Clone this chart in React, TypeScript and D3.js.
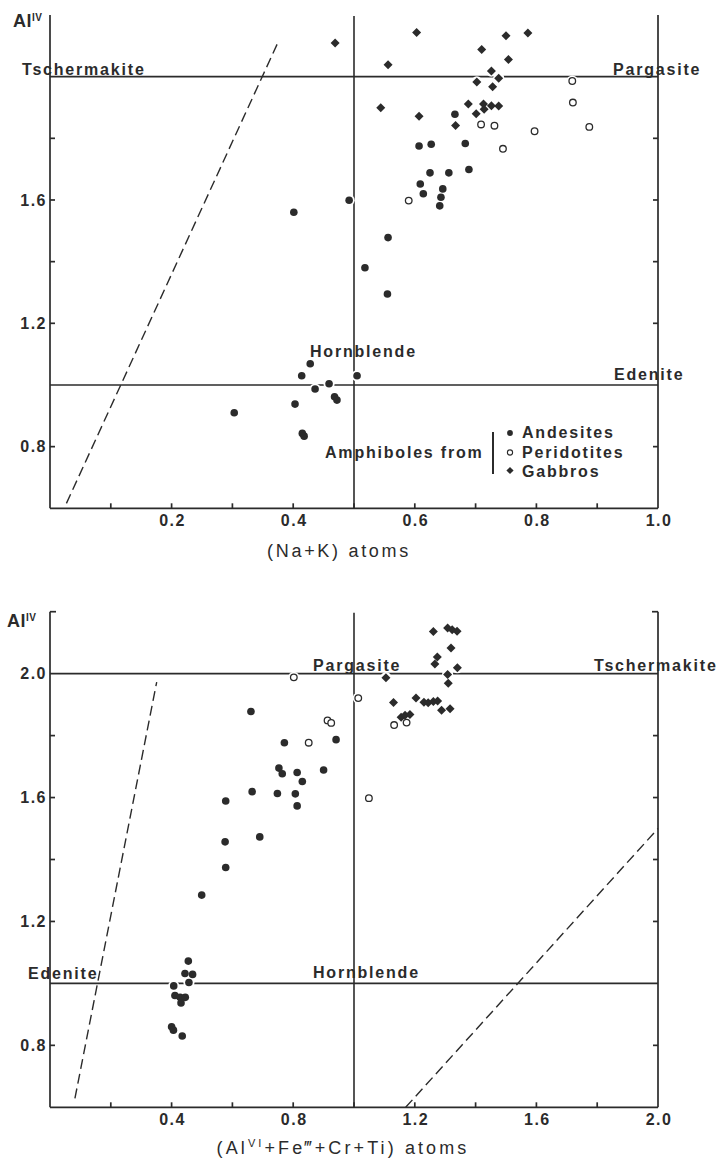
import * as d3 from 'd3';

type Pt = [number, number];

// upper diagram: Al(IV) against (Na+K)
const naKAndesites: Pt[] = [
  [0.401, 1.560], [0.492, 1.599], [0.556, 1.478], [0.607, 1.775], [0.627, 1.781],
  [0.683, 1.783], [0.689, 1.699], [0.625, 1.688], [0.656, 1.688], [0.609, 1.652],
  [0.614, 1.620], [0.646, 1.636], [0.643, 1.609], [0.641, 1.581], [0.666, 1.878],
  [0.518, 1.380], [0.555, 1.295], [0.428, 1.069], [0.414, 1.030], [0.505, 1.030],
  [0.436, 0.987], [0.459, 1.004], [0.468, 0.962], [0.472, 0.951], [0.403, 0.938],
  [0.415, 0.843], [0.418, 0.834], [0.303, 0.910],
];
const naKPeridotites: Pt[] = [
  [0.859, 1.986], [0.860, 1.916], [0.887, 1.837], [0.797, 1.823],
  [0.709, 1.845], [0.731, 1.841], [0.745, 1.766], [0.590, 1.598],
];
const naKGabbros: Pt[] = [
  [0.469, 2.109], [0.603, 2.143], [0.750, 2.133], [0.786, 2.142], [0.710, 2.088],
  [0.754, 2.056], [0.556, 2.039], [0.726, 2.018], [0.702, 1.983], [0.738, 1.995],
  [0.728, 1.967], [0.544, 1.899], [0.607, 1.872], [0.688, 1.911], [0.713, 1.911],
  [0.726, 1.906], [0.738, 1.905], [0.701, 1.880], [0.714, 1.894], [0.667, 1.842],
];
const naKDashed: Pt[] = [[0.027, 0.616], [0.374, 2.107]];
const naKTickLabels = [0.2, 0.4, 0.6, 0.8, 1.0];
const naKMinorTicks = [0.1, 0.3, 0.5, 0.7, 0.9];
const naKAlLabels = [0.8, 1.2, 1.6];

// lower diagram: Al(IV) against (Al(VI)+Fe3+Cr+Ti)
const sumAndesites: Pt[] = [
  [0.661, 1.878], [0.771, 1.777], [0.941, 1.787], [0.753, 1.695], [0.764, 1.677],
  [0.813, 1.681], [0.830, 1.652], [0.900, 1.689], [0.665, 1.619], [0.748, 1.613],
  [0.807, 1.612], [0.813, 1.573], [0.578, 1.589], [0.576, 1.457], [0.690, 1.473],
  [0.578, 1.374], [0.499, 1.285], [0.455, 1.072], [0.444, 1.032], [0.469, 1.029],
  [0.457, 1.003], [0.407, 0.992], [0.411, 0.961], [0.428, 0.955], [0.445, 0.955],
  [0.431, 0.937], [0.400, 0.860], [0.406, 0.849], [0.435, 0.830],
];
const sumPeridotites: Pt[] = [
  [0.802, 1.988], [1.014, 1.921], [0.913, 1.849], [0.925, 1.841],
  [0.851, 1.777], [1.049, 1.598], [1.132, 1.834], [1.173, 1.842],
];
const sumGabbros: Pt[] = [
  [1.261, 2.136], [1.308, 2.147], [1.323, 2.142], [1.339, 2.137], [1.319, 2.083],
  [1.274, 2.054], [1.266, 2.031], [1.340, 2.019], [1.308, 1.997], [1.310, 1.969],
  [1.105, 1.987], [1.130, 1.907], [1.204, 1.921], [1.230, 1.908], [1.244, 1.906],
  [1.261, 1.910], [1.275, 1.912], [1.288, 1.882], [1.316, 1.887], [1.155, 1.859],
  [1.168, 1.866], [1.184, 1.868],
];
const sumDashedLeft: Pt[] = [[0.082, 0.629], [0.351, 1.973]];
const sumDashedRight: Pt[] = [[1.17, 0.6], [2.0, 1.5]];
const sumTickLabels = [0.4, 0.8, 1.2, 1.6, 2.0];
const sumMinorTicks = [0.2, 0.6, 1.0, 1.4, 1.8];
const sumAlLabels = [0.8, 1.2, 1.6, 2.0];

const alTicks = [0.8, 1.2, 1.4, 1.6, 1.8];

const INK = '#2b2b2b';
const FONT = "'Liberation Sans', Arial, sans-serif";

const diamond = (r: number) => `M0,${-r}L${r},0L0,${r}L${-r},0Z`;

interface PanelProps {
  xDomain: [number, number];
  yRange: [number, number];
  andesites: Pt[];
  peridotites: Pt[];
  gabbros: Pt[];
  dashes: Pt[][];
  xLabels: number[];
  xMinor: number[];
  yLabels: number[];
  splitX: number;
  topTicks: boolean;
}

function Panel(p: PanelProps) {
  const x = d3.scaleLinear().domain(p.xDomain).range([50, 658]);
  const y = d3.scaleLinear().domain([0.6, 2.2]).range(p.yRange);
  const [x0, x1] = x.range();
  const yb = y(0.6), yt = y(2.2);
  const line = d3.line<Pt>().x(d => x(d[0])).y(d => y(d[1]));
  const all = [...p.andesites, ...p.peridotites, ...p.gabbros];

  return (
    <g>
      {/* frame */}
      <g stroke={INK} strokeWidth={1.7} fill="none">
        <line x1={x0} x2={x0} y1={yt} y2={yb} />
        <line x1={x1} x2={x1} y1={yt} y2={yb} />
        <line x1={x0} x2={x1} y1={yb} y2={yb} />
        {p.topTicks && <line x1={x0} x2={x0 + 6} y1={yt} y2={yt} />}
        {p.topTicks && <line x1={x1 - 6} x2={x1} y1={yt} y2={yt} />}
        {alTicks.map(v => (
          <g key={v}>
            <line x1={x0} x2={x0 + 5} y1={y(v)} y2={y(v)} />
            <line x1={x1 - 5} x2={x1} y1={y(v)} y2={y(v)} />
          </g>
        ))}
        {[...p.xLabels, ...p.xMinor].filter(v => v < p.xDomain[1]).map(v => (
          <line key={v} x1={x(v)} x2={x(v)} y1={yb} y2={yb - 5} />
        ))}
        {/* field boundaries */}
        <line x1={x0} x2={x1} y1={y(2.0)} y2={y(2.0)} strokeWidth={1.6} />
        <line x1={x0} x2={x1} y1={y(1.0)} y2={y(1.0)} strokeWidth={1.6} />
        <line x1={x(p.splitX)} x2={x(p.splitX)} y1={yb} y2={yt + 1} strokeWidth={1.6} />
        {p.dashes.map((d, i) => (
          <path key={i} d={line(d)!} strokeWidth={1.4} strokeDasharray="10 5" />
        ))}
      </g>

      {/* tick labels */}
      <g fill={INK} fontFamily={FONT} fontWeight={700} fontSize={16} letterSpacing={1.5}>
        {p.yLabels.map(v => (
          <text key={v} x={47} y={y(v)} dy="0.35em" textAnchor="end">{v.toFixed(1)}</text>
        ))}
        {p.xLabels.map(v => (
          <text key={v} x={x(v) + 1} y={yb + 18} textAnchor="middle">{v.toFixed(1)}</text>
        ))}
      </g>

      {/* white halos cut the lines round the symbols */}
      <g fill="#fff">
        {all.map((d, i) => (
          <circle key={i} cx={x(d[0])} cy={y(d[1])} r={5.6} />
        ))}
      </g>
      <g fill={INK}>
        {p.andesites.map((d, i) => (
          <circle key={i} cx={x(d[0])} cy={y(d[1])} r={3.8} />
        ))}
        {p.gabbros.map((d, i) => (
          <path key={i} d={diamond(4.5)} transform={`translate(${x(d[0])},${y(d[1])})`} />
        ))}
      </g>
      <g fill="#fff" stroke={INK} strokeWidth={1.3}>
        {p.peridotites.map((d, i) => (
          <circle key={i} cx={x(d[0])} cy={y(d[1])} r={3.3} />
        ))}
      </g>
    </g>
  );
}

export default function App() {
  const label = { fill: INK, fontFamily: FONT, fontWeight: 700, fontSize: 16, letterSpacing: 1.8 } as const;
  const title = { fill: INK, fontFamily: FONT, fontSize: 18, letterSpacing: 2.7 } as const;
  return (
    <svg width={717} height={1159} style={{ position: 'absolute', left: 0, top: 0, background: '#fff' }}>
      <Panel
        xDomain={[0, 1]} yRange={[508.3, 15]}
        andesites={naKAndesites} peridotites={naKPeridotites} gabbros={naKGabbros}
        dashes={[naKDashed]} xLabels={naKTickLabels} xMinor={naKMinorTicks}
        yLabels={naKAlLabels} splitX={0.5} topTicks={false}
      />
      <Panel
        xDomain={[0, 2]} yRange={[1107.3, 611.7]}
        andesites={sumAndesites} peridotites={sumPeridotites} gabbros={sumGabbros}
        dashes={[sumDashedLeft, sumDashedRight]} xLabels={sumTickLabels} xMinor={sumMinorTicks}
        yLabels={sumAlLabels} splitX={1.0} topTicks={true}
      />

      {/* upper diagram labels */}
      <text x={13} y={27} {...label} fontSize={18} letterSpacing={0.5}>
        Al<tspan fontSize={10} dy={-6}>IV</tspan>
      </text>
      <text x={22} y={74.5} {...label}>Tschermakite</text>
      <text x={613} y={75} {...label}>Pargasite</text>
      <text x={310} y={357} {...label}>Hornblende</text>
      <text x={614} y={380} {...label}>Edenite</text>
      <text x={339} y={557} textAnchor="middle" {...title}>(Na+K) atoms</text>

      {/* legend */}
      <text x={325} y={458} {...label}>Amphiboles from</text>
      <line x1={493} x2={493} y1={432} y2={474} stroke={INK} strokeWidth={2} />
      <circle cx={510} cy={433} r={2.9} fill={INK} />
      <circle cx={510} cy={452.5} r={2.6} fill="#fff" stroke={INK} strokeWidth={1.1} />
      <path d={diamond(3.6)} transform="translate(510,470.5)" fill={INK} />
      <text x={522} y={438} {...label}>Andesites</text>
      <text x={522} y={457.5} {...label}>Peridotites</text>
      <text x={522} y={476.5} {...label}>Gabbros</text>

      {/* lower diagram labels */}
      <text x={7} y={627} {...label} fontSize={18} letterSpacing={0.5}>
        Al<tspan fontSize={10} dy={-6}>IV</tspan>
      </text>
      <text x={313} y={671} {...label}>Pargasite</text>
      <text x={594} y={671} {...label}>Tschermakite</text>
      <text x={313} y={978} {...label}>Hornblende</text>
      <text x={28} y={979} {...label}>Edenite</text>
      <text x={343} y={1154} textAnchor="middle" {...title} letterSpacing={3.1}>
        (Al<tspan fontSize={11} dy={-7}>VI</tspan><tspan dy={7}>+Fe‴+Cr+Ti) atoms</tspan>
      </text>
    </svg>
  );
}
